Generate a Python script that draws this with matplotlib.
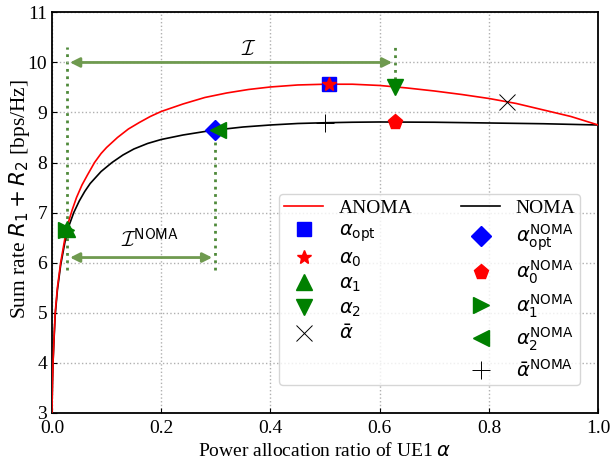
import matplotlib
matplotlib.use("Agg")
import matplotlib.pyplot as plt

# curves
x_anoma = [0.0, 0.001, 0.002, 0.004, 0.006, 0.01, 0.016, 0.024, 0.03, 0.037,
           0.045, 0.055, 0.065, 0.078, 0.09, 0.1, 0.12, 0.14, 0.16, 0.18,
           0.2, 0.24, 0.28, 0.32, 0.36, 0.40, 0.45, 0.50, 0.55, 0.60,
           0.65, 0.70, 0.75, 0.80, 0.85, 0.90, 0.95, 1.0]
y_anoma = [3.0, 3.6, 4.0, 4.55, 5.0, 5.5, 6.0, 6.5, 6.8, 7.05,
           7.3, 7.55, 7.75, 8.0, 8.18, 8.3, 8.5, 8.67, 8.8, 8.92,
           9.02, 9.17, 9.3, 9.39, 9.46, 9.51, 9.55, 9.565, 9.565, 9.54,
           9.49, 9.43, 9.36, 9.28, 9.18, 9.05, 8.92, 8.75]

x_noma = [0.0, 0.001, 0.002, 0.004, 0.006, 0.01, 0.016, 0.024, 0.03, 0.04,
          0.05, 0.06, 0.07, 0.08, 0.09, 0.11, 0.13, 0.15, 0.175, 0.2,
          0.24, 0.28, 0.30, 0.35, 0.40, 0.45, 0.50, 0.55, 0.60, 0.70,
          0.80, 0.90, 1.0]
y_noma = [3.0, 3.6, 4.0, 4.5, 4.95, 5.45, 5.95, 6.42, 6.7, 7.0,
          7.23, 7.42, 7.58, 7.7, 7.82, 8.0, 8.15, 8.27, 8.38, 8.46,
          8.55, 8.62, 8.65, 8.71, 8.75, 8.78, 8.795, 8.805, 8.81, 8.805,
          8.79, 8.775, 8.75]

# special points
a_opt = (0.508, 9.56)
a_0 = (0.508, 9.56)
a_1 = (0.028, 6.68)
a_2 = (0.628, 9.51)
a_bar = (0.833, 9.21)
n_opt = (0.2985, 8.65)
n_0 = (0.628, 8.81)
n_1 = (0.026, 6.65)
n_2 = (0.304, 8.65)
n_bar = (0.50, 8.78)

plt.rcParams['font.family'] = ['Liberation Serif', 'DejaVu Sans']
plt.rcParams['mathtext.fontset'] = 'dejavusans'

fig, ax = plt.subplots(figsize=(6.11, 4.61), dpi=100)
fig.subplots_adjust(left=0.085, right=0.979, top=0.973, bottom=0.105)

ax.plot(x_anoma, y_anoma, color='red', lw=1.2, label='ANOMA', zorder=3)
ax.plot(x_noma, y_noma, color='black', lw=1.2, label='NOMA', zorder=2)

h = []
h.append(ax.plot(*a_opt, 's', color='blue', ms=10, label=r'$\alpha_{\mathrm{opt}}$', zorder=5)[0])
h.append(ax.plot(*a_0, '*', color='red', ms=10, label=r'$\alpha_0$', zorder=6)[0])
h.append(ax.plot(*a_1, '^', color='green', ms=11, label=r'$\alpha_1$', zorder=5)[0])
h.append(ax.plot(*a_2, 'v', color='green', ms=11, label=r'$\alpha_2$', zorder=5)[0])
h.append(ax.plot(*a_bar, 'x', color='black', ms=12, mew=0.7, label=r'$\bar{\alpha}$', zorder=5)[0])
hn = []
hn.append(ax.plot(*n_opt, 'D', color='blue', ms=10, label=r'$\alpha_{\mathrm{opt}}^{\mathrm{NOMA}}$', zorder=5)[0])
hn.append(ax.plot(*n_0, 'p', color='red', ms=11, label=r'$\alpha_0^{\mathrm{NOMA}}$', zorder=5)[0])
hn.append(ax.plot(*n_1, '>', color='green', ms=11, label=r'$\alpha_1^{\mathrm{NOMA}}$', zorder=6)[0])
hn.append(ax.plot(*n_2, '<', color='green', ms=11, label=r'$\alpha_2^{\mathrm{NOMA}}$', zorder=6)[0])
hn.append(ax.plot(*n_bar, '+', color='black', ms=13, mew=0.7, label=r'$\bar{\alpha}^{\mathrm{NOMA}}$', zorder=5)[0])

# interval markers
gc = '#4f8a3a'
ac = '#6f9a4f'
ax.plot([a_1[0], a_1[0]], [5.85, 10.3], ':', color=gc, lw=2, zorder=1)
ax.plot([a_2[0], a_2[0]], [a_2[1], 10.3], ':', color=gc, lw=2, zorder=1)
ax.plot([n_opt[0], n_opt[0]], [5.85, n_opt[1]], ':', color=gc, lw=2, zorder=1)
ax.annotate('', xy=(a_1[0], 10.0), xytext=(a_2[0], 10.0),
            arrowprops=dict(arrowstyle='<|-|>', color=ac, lw=2, mutation_scale=14))
ax.annotate('', xy=(a_1[0], 6.1), xytext=(n_opt[0], 6.1),
            arrowprops=dict(arrowstyle='<|-|>', color=ac, lw=2, mutation_scale=14))
ax.text(0.36, 10.05, r'$\mathcal{I}$', fontsize=15, ha='center', va='bottom',
        math_fontfamily='cm')
ax.text(0.18, 6.2, r'$\mathcal{I}^{\mathsf{NOMA}}$', fontsize=15, ha='center', va='bottom',
        math_fontfamily='cm')

ax.set_xlim(0, 1)
ax.set_ylim(3, 11)
ax.set_xticks([0, 0.2, 0.4, 0.6, 0.8, 1.0])
ax.set_yticks(range(3, 12))
ax.grid(True, linestyle=':', color='#b0b0b0', lw=1)
ax.tick_params(direction='in', labelsize=14)
ax.tick_params(axis='x', pad=5)
for s in ax.spines.values():
    s.set_linewidth(1.3)
ax.set_xlabel(r'Power allocation ratio of UE1 $\alpha$', fontsize=14, labelpad=4)
ax.set_ylabel(r'Sum rate $R_1 + R_2$ [bps/Hz]', fontsize=15.5)
ax.yaxis.set_label_coords(-0.036, 0.534)

lines = ax.get_lines()
handles = [lines[0]] + h + [lines[1]] + hn
ax.legend(handles=handles, labels=[x.get_label() for x in handles], ncol=2,
          loc='lower right', bbox_to_anchor=(0.967, 0.068), fontsize=14,
          handlelength=2.0, columnspacing=2.5, labelspacing=0.3,
          borderpad=0.25, borderaxespad=0.0)

fig.savefig('out.png', dpi=100)
